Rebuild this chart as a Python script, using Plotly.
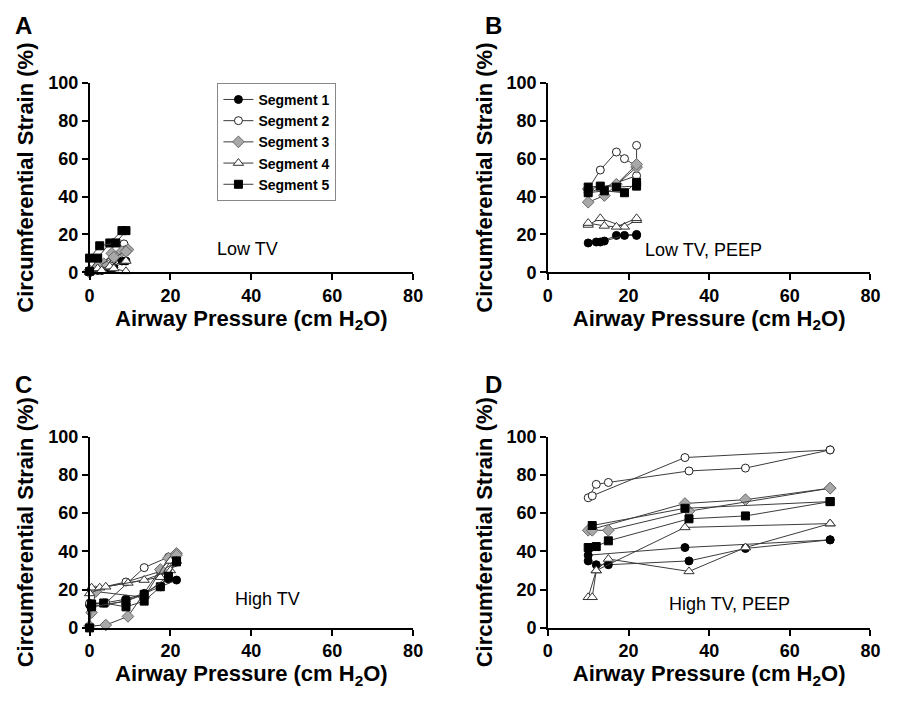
import plotly.graph_objects as go

# ---------------- data (pressure cm H2O, strain %) ----------------
SEGMENTS = ["Segment 1", "Segment 2", "Segment 3", "Segment 4", "Segment 5"]
X_TICKS = [0, 20, 40, 60, 80]
Y_TICKS = [0, 20, 40, 60, 80, 100]
PANEL_LABELS = ["A", "B", "C", "D"]
PANEL_TITLES = ["Low TV", "Low TV, PEEP", "High TV", "High TV, PEEP"]

# Panel A : Low TV  (two lines per segment)
A_SEG1 = [[(0, 0), (2, 1), (5, 2), (8, 6)], [(0, 0.5), (3, 1), (6, 2.5), (9, 6)]]
A_SEG2 = [[(0, 0), (2.5, 2), (5, 5.5), (8.5, 15)], [(0, 1), (3, 3), (6, 7), (9, 12)]]
A_SEG3 = [[(0, 0), (3.5, 4.5), (5.5, 10), (8, 11), (9.5, 12)], [(0, 1), (2, 3), (6, 8), (9, 11)]]
A_SEG4 = [[(0, 0), (2, 2), (5, 3), (9, 6)], [(0, 0.5), (3, 1), (6, 2), (9, 0.5)]]
A_SEG5 = [[(0, 0.5), (2, 7.5), (5, 15.5), (8, 22)], [(0, 7.5), (2.5, 14), (6.5, 15.5), (9, 22)]]

# Panel B : Low TV, PEEP
B_SEG1 = [[(10, 15.5), (13, 16), (17, 19.5), (22, 20)], [(12, 16), (14, 16.5), (19, 19.5), (22, 19.5)]]
B_SEG2 = [[(10, 44), (13, 54), (17, 63.5), (19, 60), (22, 56)], [(10, 42), (22, 51), (22, 67)]]
B_SEG3 = [[(10, 37), (14, 40.5), (22, 55.5)], [(10, 44), (17, 46.5), (22, 57)]]
B_SEG4 = [[(10, 25), (13, 28.5), (19, 24), (22, 27.5)], [(10, 26), (14, 24.5), (17, 24), (22, 28.5)]]
B_SEG5 = [[(10, 45), (13, 45.5), (17, 45), (22, 45.5)], [(10, 42), (14, 43), (19, 42), (22, 47.5)]]

# Panel C : High TV
C_SEG1 = [[(0, 12), (3.5, 13), (9, 15), (13.5, 18), (19.5, 25.5)], [(0.5, 11), (9, 14), (17.5, 21.5), (21.5, 25)]]
C_SEG2 = [[(0, 13), (4, 13), (13.5, 31.5), (19.5, 37)], [(0.5, 20), (9, 24), (17.5, 29.5), (21, 34)]]
C_SEG3 = [[(0, 1), (4, 1.5), (9.5, 6), (17.5, 30.5), (21.5, 39)], [(0.5, 8), (1.5, 19), (13.5, 16), (19.5, 36.5), (21.5, 38)]]
C_SEG4 = [[(0.5, 21), (2.5, 21), (9.5, 23.5), (17.5, 26.5), (20, 35)], [(0, 18), (4, 21.5), (13.5, 25), (20, 30), (21.5, 35)]]
C_SEG5 = [[(0, 0), (0.5, 12.5), (3.5, 13), (9, 11), (13.5, 14), (17.5, 21.5), (21.5, 34.5)], [(0.5, 11), (9, 14), (13.5, 17.5), (19.5, 27), (21.5, 35)]]

# Panel D : High TV, PEEP
D_SEG1 = [[(10, 38), (34, 42), (70, 46)], [(10, 35), (12, 33), (15, 33), (35, 35), (49, 41.5), (70, 46)]]
D_SEG2 = [[(10, 68), (12, 75), (15, 76), (35, 82), (49, 83.5), (70, 93)], [(11, 69), (34, 89), (70, 93)]]
D_SEG3 = [[(10, 51), (34, 65), (49, 67), (70, 73)], [(11, 51), (15, 51), (35, 61), (70, 73)]]
D_SEG4 = [[(10, 16), (12, 30), (15, 36), (35, 29.5), (49, 42), (70, 54.5)], [(11, 16), (12, 30), (34, 52.5), (70, 54.5)]]
D_SEG5 = [[(11, 53.5), (34, 62.5), (70, 66)], [(10, 42), (12, 42.5), (15, 45.5), (35, 57), (49, 58.5), (70, 66)]]

PANELS = [
    [A_SEG1, A_SEG2, A_SEG3, A_SEG4, A_SEG5],
    [B_SEG1, B_SEG2, B_SEG3, B_SEG4, B_SEG5],
    [C_SEG1, C_SEG2, C_SEG3, C_SEG4, C_SEG5],
    [D_SEG1, D_SEG2, D_SEG3, D_SEG4, D_SEG5],
]

# ---------------- styles ----------------
W, H = 907, 703
FONT = "Liberation Sans, Arial, Helvetica, sans-serif"
LINE_COLOR = "#3c3c3c"
MARKERS = [
    dict(symbol="circle", size=8, color="black", line=dict(color="black", width=1)),
    dict(symbol="circle", size=8, color="white", line=dict(color="#222222", width=1)),
    dict(symbol="diamond", size=9, color="#a8a8a8", line=dict(color="#6a6a6a", width=1)),
    dict(symbol="triangle-up", size=9, color="white", line=dict(color="#333333", width=1)),
    dict(symbol="square", size=8, color="black", line=dict(color="black", width=1)),
]

# plot areas in pixels (left, right, top, bottom)
BOXES = [(86, 415, 75, 270), (552, 880, 75, 270), (86, 415, 439, 636), (552, 880, 439, 636)]

fig = go.Figure()
for pi, panel in enumerate(PANELS):
    xa = "x" if pi == 0 else f"x{pi+1}"
    ya = "y" if pi == 0 else f"y{pi+1}"
    for si, seg in enumerate(panel):
        for li, line in enumerate(seg):
            fig.add_trace(go.Scatter(
                x=[p for p, s in line], y=[s for p, s in line],
                mode="lines+markers", xaxis=xa, yaxis=ya,
                name=SEGMENTS[si], legendgroup=SEGMENTS[si],
                showlegend=(pi == 0 and li == 0),
                line=dict(color=LINE_COLOR, width=1),
                marker=MARKERS[si], cliponaxis=False,
            ))

layout = dict(
    width=W, height=H, margin=dict(l=0, r=0, t=0, b=0),
    paper_bgcolor="white", plot_bgcolor="white",
    font=dict(family=FONT, color="black"),
    legend=dict(x=216 / W, y=1 - 75 / H, xanchor="left", yanchor="top",
                bordercolor="#888888", borderwidth=1, bgcolor="white",
                font=dict(family=FONT, size=14, color="black", weight="bold"),
                tracegroupgap=0, itemwidth=30),
    annotations=[],
)
for pi, (l, r, t, b) in enumerate(BOXES):
    sfx = "" if pi == 0 else str(pi + 1)
    axis_common = dict(showline=True, linecolor="black", linewidth=1.5, ticks="outside",
                       ticklen=6, tickwidth=1.5, tickcolor="black", showgrid=False, zeroline=False,
                       tickfont=dict(family=FONT, size=18, color="black", weight="bold"))
    layout["xaxis" + sfx] = dict(
        domain=[l / W, r / W], range=[0, 80], tickvals=X_TICKS, anchor="y" + sfx,
        title=dict(text="Airway Pressure (cm H<sub>2</sub>O)", standoff=4,
                   font=dict(family=FONT, size=22, color="black", weight="bold")),
        **axis_common)
    layout["yaxis" + sfx] = dict(
        domain=[1 - b / H, 1 - t / H], range=[0, 100], tickvals=Y_TICKS, anchor="x" + sfx,
        title=dict(text="Circumferential Strain (%)", standoff=8,
                   font=dict(family=FONT, size=22, color="black", weight="bold")),
        **axis_common)
    # panel letter
    layout["annotations"].append(dict(
        text=PANEL_LABELS[pi], xref="paper", yref="paper",
        x=(8 if pi % 2 == 0 else 486) / W, y=1 - (0 if pi < 2 else 370) / H,
        xanchor="left", yanchor="top", showarrow=False,
        font=dict(family=FONT, size=24, color="black", weight="bold")))

# condition labels (placed in data coordinates of each panel)
COND_POS = [(39, 12.5), (38.5, 12), (44, 15), (45, 12.5)]
for pi, (cx, cy) in enumerate(COND_POS):
    sfx = "" if pi == 0 else str(pi + 1)
    layout["annotations"].append(dict(
        text=PANEL_TITLES[pi], xref="x" + sfx, yref="y" + sfx, x=cx, y=cy,
        xanchor="center", yanchor="middle", showarrow=False,
        font=dict(family=FONT, size=18, color="black")))

fig.update_layout(**layout)
fig.write_html("out.html", config={"displayModeBar": False},
               post_script="document.body.style.margin='0px';")
